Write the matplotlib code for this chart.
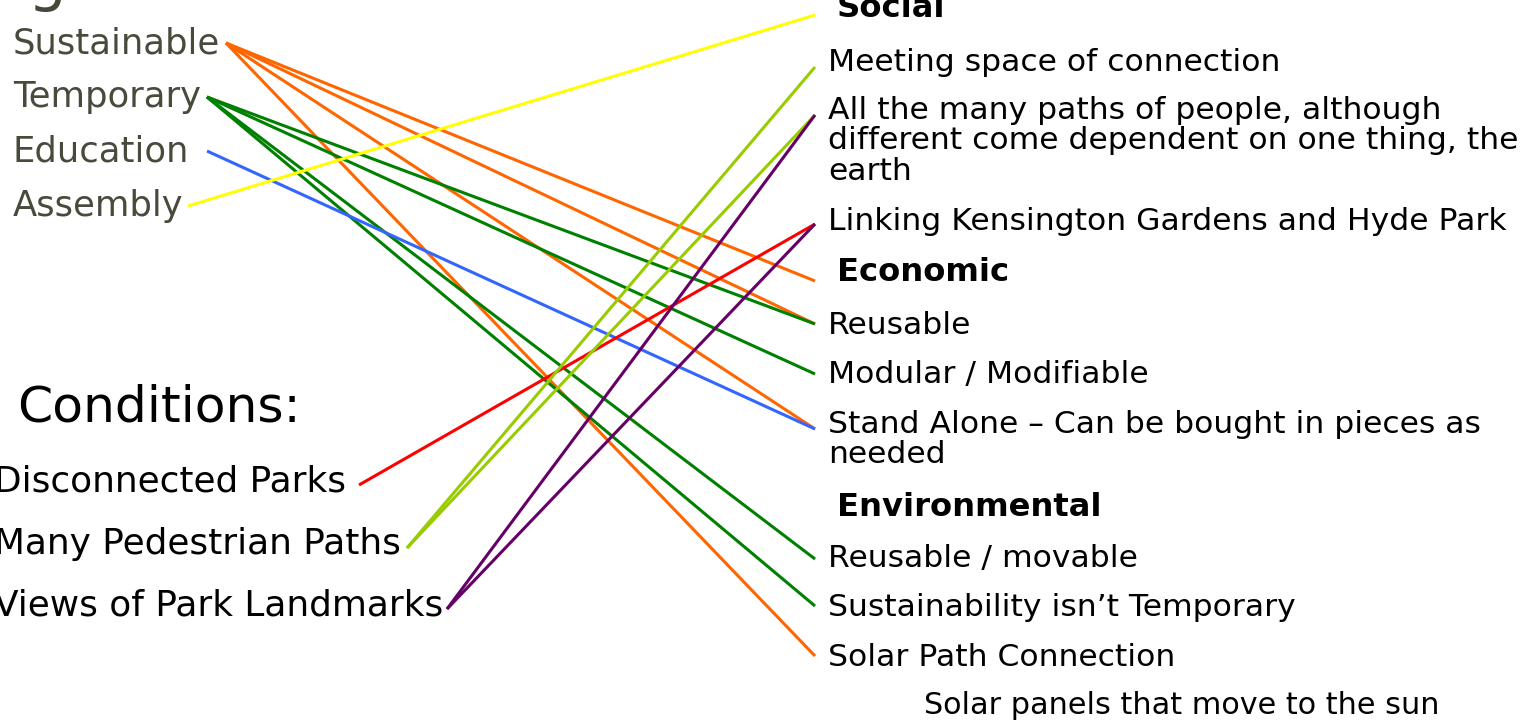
import matplotlib.pyplot as plt

# --- data -------------------------------------------------------------
concepts = ["Sustainable", "Temporary", "Education", "Assembly"]
conditions = ["Disconnected Parks", "Many Pedestrian Paths", "Views of Park Landmarks"]

goals = [
    "Social",
    "Meeting space of connection",
    "All the many paths of people, although\ndifferent come dependent on one thing, the\nearth",
    "Linking Kensington Gardens and Hyde Park",
    "Economic",
    "Reusable",
    "Modular / Modifiable",
    "Stand Alone \u2013 Can be bought in pieces as\nneeded",
    "Environmental",
    "Reusable / movable",
    "Sustainability isn\u2019t Temporary",
    "Solar Path Connection",
]
headings = ["Social", "Economic", "Environmental"]
note = "Solar panels that move to the sun"

# (source, target, colour)
links = [
    ("Sustainable", "Economic", "#FF6600"),
    ("Sustainable", "Reusable", "#FF6600"),
    ("Sustainable", "Stand Alone \u2013 Can be bought in pieces as\nneeded", "#FF6600"),
    ("Sustainable", "Solar Path Connection", "#FF6600"),
    ("Temporary", "Reusable", "#008000"),
    ("Temporary", "Modular / Modifiable", "#008000"),
    ("Temporary", "Reusable / movable", "#008000"),
    ("Temporary", "Sustainability isn\u2019t Temporary", "#008000"),
    ("Education", "Stand Alone \u2013 Can be bought in pieces as\nneeded", "#3366FF"),
    ("Assembly", "Social", "#FFFF00"),
    ("Disconnected Parks", "Linking Kensington Gardens and Hyde Park", "#FF0000"),
    ("Many Pedestrian Paths", "Meeting space of connection", "#99CC00"),
    ("Many Pedestrian Paths",
     "All the many paths of people, although\ndifferent come dependent on one thing, the\nearth", "#99CC00"),
    ("Views of Park Landmarks",
     "All the many paths of people, although\ndifferent come dependent on one thing, the\nearth", "#660066"),
    ("Views of Park Landmarks", "Linking Kensington Gardens and Hyde Park", "#660066"),
]

# --- layout (pixel space of the slide) --------------------------------
concept_y = [43, 97, 151, 206]
concept_anchor_x = [226, 207, 207, 188]
condition_y = [481, 544, 605]
condition_anchor_x = [359, 407, 447]
goal_y = [8, 62, 110, 221, 272, 325, 374, 424, 507, 558, 607, 657]
goal_anchor_y = [15, 67, 115, 224, 281, 324, 374, 429, None, 559, 606, 656]
goal_anchor_x = 815

fig = plt.figure(figsize=(15.37, 7.25), dpi=100)
ax = fig.add_axes([0, 0, 1, 1])
ax.set_xlim(0, 1537)
ax.set_ylim(725, 0)
ax.axis("off")

anchors = {}

# cut-off heading at the very top
ax.text(28, -1, "g", fontsize=44, color="#46463A", va="baseline")

for name, y, ax_x in zip(concepts, concept_y, concept_anchor_x):
    ax.text(13, y, name, fontsize=25.5, color="#4A4A3C", va="center")
    anchors[name] = (ax_x, y)

ax.text(17, 407, "Conditions:", fontsize=36.3, color="black", va="center")
for name, y, ax_x in zip(conditions, condition_y, condition_anchor_x):
    ax.text(-6, y, name, fontsize=25.8, color="black", va="center")
    anchors[name] = (ax_x, y + 4)

for name, y, ay in zip(goals, goal_y, goal_anchor_y):
    if name in headings:
        ax.text(837, y, name, fontsize=23.2, fontweight="bold", color="black", va="center")
        if name == "Economic":
            anchors[name] = (goal_anchor_x, 281)
        elif name == "Social":
            anchors[name] = (goal_anchor_x, 15)
        continue
    for i, line in enumerate(name.split("\n")):
        ax.text(828, y + i * 30.5, line, fontsize=22.6, color="black", va="center")
    anchors[name] = (goal_anchor_x, ay)

ax.text(924, 706, note, fontsize=21.8, color="black", va="center")

for src, dst, col in links:
    x0, y0 = anchors[src]
    x1, y1 = anchors[dst]
    ax.plot([x0, x1], [y0, y1], color=col, lw=2.2, solid_capstyle="butt")

fig.savefig("out.png", dpi=100)
